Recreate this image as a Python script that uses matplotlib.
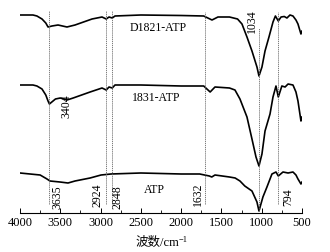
import matplotlib
matplotlib.use("Agg")
import matplotlib.pyplot as plt
from matplotlib.ticker import MultipleLocator

plt.rcParams['font.family'] = ['Liberation Serif', 'Noto Sans CJK SC', 'DejaVu Sans']

# Wavenumbers (cm^-1) and intensities (arbitrary, offset units)
d1821_wn = [4000, 3839, 3790, 3727, 3680, 3652, 3603, 3528, 3417, 3317, 3106, 2982, 2930, 2895,
            2855, 2821, 2500, 2000, 1720, 1617, 1543, 1400, 1300, 1245, 1183, 1121, 1059, 1034,
            997, 959, 910, 860, 830, 794, 760, 720, 687, 649, 612, 575, 550, 513, 500]
d1821_y = [237, 237, 236, 233, 229, 225, 226, 227, 225, 227, 233, 235, 233, 235,
           234, 236, 237, 236.5, 236, 232, 235, 235, 233, 228, 215, 201, 185, 176,
           185, 201, 215, 230, 236, 231, 235, 235.5, 234, 237, 236, 232, 228, 218, 221]

s1831_wn = [4000, 3839, 3790, 3727, 3680, 3652, 3635, 3560, 3500, 3417, 3340, 3130, 2982, 2930,
            2895, 2855, 2821, 2500, 2000, 1720, 1640, 1580, 1400, 1332, 1270, 1183, 1121, 1071,
            1034, 997, 959, 897, 860, 823, 794, 750, 710, 673, 612, 575, 550, 513, 500]
s1831_y = [167, 167, 166, 163, 157, 151, 148, 153, 154, 152, 154, 160, 164, 162,
           165, 164, 167, 167, 166, 166, 160, 165, 164, 162, 153, 135, 113, 95,
           86, 98, 121, 138, 155, 166, 155, 166, 165, 168, 167, 160, 151, 131, 135]

atp_wn = [4000, 3750, 3665, 3628, 3504, 3404, 3317, 3130, 2994, 2870, 2500, 2000, 1770, 1650,
          1620, 1580, 1400, 1330, 1270, 1210, 1121, 1059, 1034, 985, 935, 873, 823, 794, 736,
          673, 612, 575, 550, 513, 500]
atp_y = [79, 77, 73, 71, 70, 69, 71, 74, 77, 78, 79, 78, 78, 76,
         75, 77, 75, 74, 71, 66, 61, 50, 41, 55, 65, 78, 80, 76, 80,
         79, 80, 77, 73, 68, 70]

# Marker lines: positions as drawn, and their labels
vline_pos = [3635, 2937, 2855, 1705, 1034, 794]
vline_top = [241, 241, 241, 240, 224, 240]
vline_bottom = [48, 48, 48, 48, 41, 48]

peak_labels = ['3404', '3635', '2924', '2848', '1632', '794', '1034']
peak_label_x = [3429, 3541, 3032, 2784, 1791, 674, 1121]
peak_label_y = [147, 56, 58, 56, 59, 56, 232]

curve_names = ['D1821-ATP', '1831-ATP', 'ATP']
curve_label_x = [2287, 2312, 2337]
curve_label_y = [225, 155, 63]

fig = plt.figure(figsize=(3.30, 2.53), dpi=100)
ax = fig.add_axes([20/330, 39/253, 282/330, 209/253])

for wn, y in [(d1821_wn, d1821_y), (s1831_wn, s1831_y), (atp_wn, atp_y)]:
    ax.plot(wn, y, color='black', lw=1.2, solid_joinstyle='round')

for xp, yt, yb in zip(vline_pos, vline_top, vline_bottom):
    ax.plot([xp, xp], [yb, yt], color='#666666', lw=0.6, linestyle=(0, (1.5, 1)))

for t, x, y in zip(peak_labels, peak_label_x, peak_label_y):
    ax.text(x, y, t, rotation=90, ha='center', va='center', fontsize=8.5)

for t, x, y in zip(curve_names, curve_label_x, curve_label_y):
    ax.text(x, y, t, ha='center', va='center', fontsize=8.5)

ax.set_xlim(4000, 500)
ax.set_ylim(39, 248)
for s in ['top', 'right', 'left']:
    ax.spines[s].set_visible(False)
ax.spines['bottom'].set_linewidth(0.8)
ax.set_yticks([])
ax.xaxis.set_major_locator(MultipleLocator(500))
ax.xaxis.set_minor_locator(MultipleLocator(250))
ax.tick_params(axis='x', which='major', direction='in', length=3.5, width=0.7, labelsize=9, pad=2)
ax.tick_params(axis='x', which='minor', direction='in', length=2, width=0.6)

xl = fig.text(157/330, 1 - 243/253, '波数/cm', ha='center', va='center', fontsize=9)
ax.annotate('\u22121', xy=(1.0, 0.75), xycoords=xl, ha='left', va='center', fontsize=6)

fig.savefig('out.png', dpi=100)
